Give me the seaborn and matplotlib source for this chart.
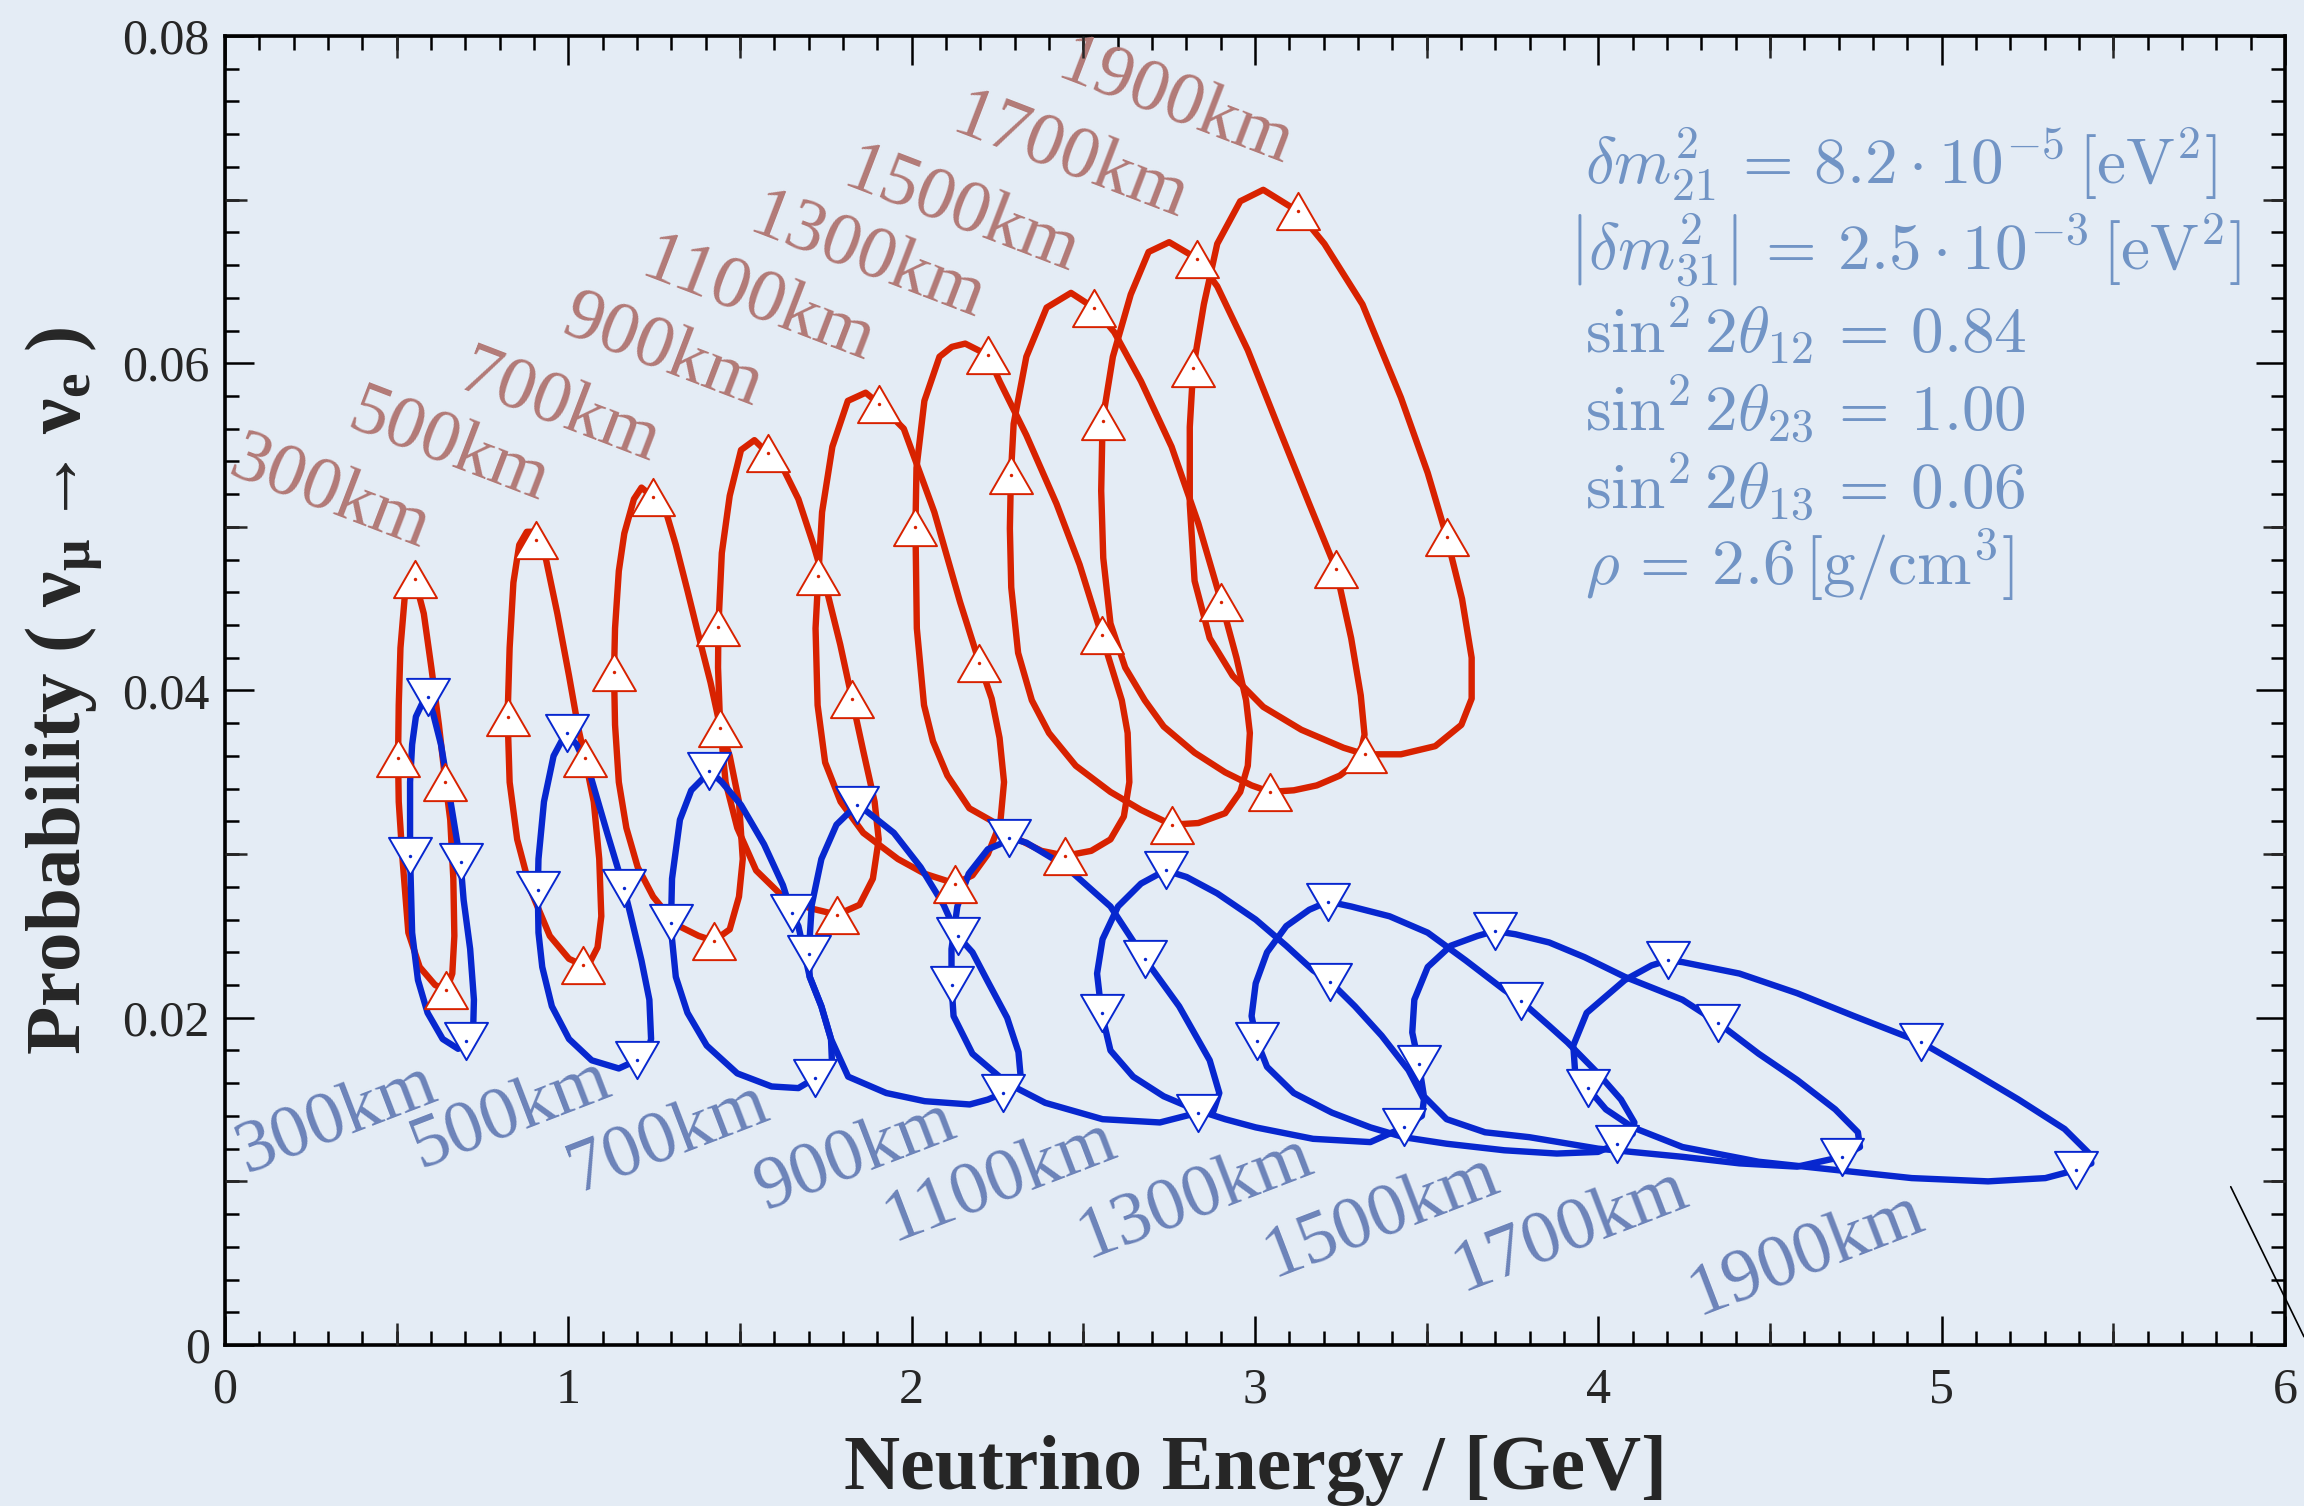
import matplotlib
matplotlib.use("Agg")
import matplotlib.pyplot as plt
import seaborn as sns
import pandas as pd
from matplotlib.lines import Line2D
from matplotlib.path import Path
from matplotlib.ticker import MultipleLocator, FixedLocator

# ---------------- data ----------------
baselines = [300, 500, 700, 900, 1100, 1300, 1500, 1700, 1900]

# neutrino loops (red)
nu_300_E = [0.553, 0.579, 0.601, 0.623, 0.642, 0.656, 0.665, 0.668, 0.662, 0.645, 0.612, 0.567, 0.534, 0.517, 0.506, 0.504, 0.506, 0.511, 0.523, 0.539]
nu_300_P = [0.0468, 0.0447, 0.0414, 0.0379, 0.0344, 0.0321, 0.0285, 0.0250, 0.0227, 0.0217, 0.0220, 0.0231, 0.0252, 0.0297, 0.0332, 0.0359, 0.0391, 0.0426, 0.0456, 0.0467]
nu_300_marks = [0, 4, 9, 15]

nu_500_E = [0.905, 0.935, 0.968, 1.002, 1.029, 1.048, 1.074, 1.090, 1.096, 1.085, 1.063, 1.044, 1.002, 0.946, 0.890, 0.851, 0.829, 0.823, 0.829, 0.840, 0.857, 0.879, 0.896]
nu_500_P = [0.0492, 0.0480, 0.0447, 0.0409, 0.0377, 0.0359, 0.0332, 0.0297, 0.0262, 0.0243, 0.0234, 0.0232, 0.0236, 0.0250, 0.0278, 0.0309, 0.0344, 0.0384, 0.0426, 0.0466, 0.0489, 0.0497, 0.0497]
nu_500_marks = [0, 5, 11, 17]

nu_700_E = [1.248, 1.286, 1.313, 1.347, 1.380, 1.414, 1.443, 1.470, 1.497, 1.508, 1.497, 1.470, 1.424, 1.380, 1.313, 1.247, 1.202, 1.169, 1.147, 1.136, 1.133, 1.136, 1.147, 1.163, 1.191, 1.213]
nu_700_P = [0.0518, 0.0508, 0.0489, 0.0461, 0.0433, 0.0405, 0.0377, 0.0360, 0.0332, 0.0297, 0.0274, 0.0254, 0.0247, 0.0250, 0.0257, 0.0274, 0.0292, 0.0316, 0.0344, 0.0379, 0.0411, 0.0438, 0.0473, 0.0496, 0.0517, 0.0524]
nu_700_marks = [0, 6, 12, 20]

nu_900_E = [1.581, 1.625, 1.670, 1.714, 1.753, 1.792, 1.826, 1.859, 1.892, 1.904, 1.887, 1.848, 1.783, 1.703, 1.625, 1.547, 1.492, 1.458, 1.442, 1.436, 1.437, 1.447, 1.470, 1.503, 1.542]
nu_900_P = [0.0545, 0.0536, 0.0517, 0.0489, 0.0461, 0.0428, 0.0395, 0.0363, 0.0332, 0.0309, 0.0285, 0.0269, 0.0263, 0.0267, 0.0274, 0.0290, 0.0316, 0.0344, 0.0379, 0.0414, 0.0439, 0.0484, 0.0519, 0.0547, 0.0553]
nu_900_marks = [0, 6, 12, 20]

nu_1100_E = [1.906, 1.977, 2.066, 2.141, 2.197, 2.233, 2.256, 2.269, 2.258, 2.222, 2.177, 2.127, 2.038, 1.960, 1.859, 1.793, 1.748, 1.726, 1.720, 1.728, 1.739, 1.769, 1.814, 1.866]
nu_1100_P = [0.0575, 0.0560, 0.0509, 0.0454, 0.0417, 0.0395, 0.0371, 0.0344, 0.0319, 0.0300, 0.0287, 0.0282, 0.0288, 0.0297, 0.0313, 0.0332, 0.0356, 0.0391, 0.0438, 0.0470, 0.0509, 0.0549, 0.0577, 0.0582]
nu_1100_marks = [0, 4, 11, 19]

nu_1300_E = [2.222, 2.256, 2.334, 2.422, 2.489, 2.553, 2.612, 2.629, 2.634, 2.618, 2.579, 2.523, 2.448, 2.378, 2.311, 2.244, 2.168, 2.104, 2.062, 2.036, 2.015, 2.011, 2.014, 2.037, 2.081, 2.117, 2.156]
nu_1300_P = [0.0605, 0.0589, 0.0556, 0.0514, 0.0477, 0.0434, 0.0394, 0.0374, 0.0344, 0.0323, 0.0309, 0.0302, 0.0299, 0.0302, 0.0309, 0.0319, 0.0328, 0.0348, 0.0369, 0.0391, 0.0438, 0.0500, 0.0536, 0.0577, 0.0604, 0.0610, 0.0612]
nu_1300_marks = [0, 5, 12, 21]

nu_1500_E = [2.530, 2.590, 2.668, 2.757, 2.835, 2.902, 2.946, 2.974, 2.985, 2.979, 2.957, 2.913, 2.835, 2.757, 2.668, 2.579, 2.478, 2.400, 2.350, 2.310, 2.290, 2.286, 2.289, 2.297, 2.334, 2.393, 2.464]
nu_1500_P = [0.0634, 0.0619, 0.0589, 0.0549, 0.0502, 0.0454, 0.0420, 0.0394, 0.0374, 0.0354, 0.0338, 0.0325, 0.0319, 0.0318, 0.0327, 0.0338, 0.0354, 0.0374, 0.0394, 0.0423, 0.0463, 0.0499, 0.0532, 0.0563, 0.0604, 0.0634, 0.0643]
nu_1500_marks = [0, 5, 13, 22]

nu_1700_E = [2.831, 2.890, 2.979, 3.068, 3.158, 3.236, 3.280, 3.308, 3.319, 3.302, 3.247, 3.180, 3.113, 3.044, 2.990, 2.913, 2.824, 2.734, 2.679, 2.622, 2.579, 2.558, 2.552, 2.556, 2.586, 2.638, 2.690, 2.750]
nu_1700_P = [0.0664, 0.0647, 0.0608, 0.0561, 0.0514, 0.0474, 0.0432, 0.0397, 0.0373, 0.0357, 0.0348, 0.0342, 0.0339, 0.0338, 0.0342, 0.0350, 0.0362, 0.0378, 0.0394, 0.0414, 0.0441, 0.0481, 0.0522, 0.0565, 0.0604, 0.0642, 0.0668, 0.0674]
nu_1700_marks = [0, 5, 13, 23]

nu_1900_E = [3.124, 3.202, 3.313, 3.425, 3.503, 3.558, 3.603, 3.631, 3.631, 3.601, 3.525, 3.425, 3.320, 3.258, 3.135, 3.024, 2.935, 2.868, 2.824, 2.810, 2.810, 2.820, 2.851, 2.890, 2.957, 3.024]
nu_1900_P = [0.0693, 0.0673, 0.0636, 0.0579, 0.0533, 0.0494, 0.0456, 0.0420, 0.0395, 0.0379, 0.0366, 0.0361, 0.0361, 0.0365, 0.0376, 0.0390, 0.0409, 0.0432, 0.0467, 0.0514, 0.0561, 0.0597, 0.0636, 0.0673, 0.0699, 0.0706]
nu_1900_marks = [0, 5, 12, 21]

# anti-neutrino loops (blue)
nubar_300_E = [0.590, 0.606, 0.629, 0.657, 0.686, 0.695, 0.714, 0.725, 0.723, 0.703, 0.679, 0.634, 0.590, 0.562, 0.545, 0.539, 0.539, 0.545, 0.556, 0.574]
nubar_300_P = [0.0396, 0.0386, 0.0367, 0.0332, 0.0295, 0.0272, 0.0242, 0.0211, 0.0195, 0.0186, 0.0181, 0.0187, 0.0203, 0.0223, 0.0252, 0.0299, 0.0344, 0.0367, 0.0384, 0.0392]
nubar_300_marks = [0, 4, 9, 15]

nubar_500_E = [0.995, 1.024, 1.063, 1.113, 1.162, 1.180, 1.213, 1.236, 1.241, 1.228, 1.199, 1.147, 1.068, 1.002, 0.952, 0.924, 0.913, 0.911, 0.913, 0.929, 0.957, 0.985]
nubar_500_P = [0.0374, 0.0367, 0.0349, 0.0313, 0.0279, 0.0264, 0.0235, 0.0211, 0.0187, 0.0177, 0.0174, 0.0169, 0.0174, 0.0187, 0.0207, 0.0231, 0.0252, 0.0278, 0.0297, 0.0332, 0.0360, 0.0371]
nubar_500_marks = [0, 4, 10, 17]

nubar_700_E = [1.411, 1.447, 1.503, 1.570, 1.625, 1.651, 1.670, 1.703, 1.737, 1.765, 1.768, 1.718, 1.670, 1.592, 1.492, 1.403, 1.347, 1.313, 1.302, 1.299, 1.302, 1.325, 1.358, 1.391]
nubar_700_P = [0.0351, 0.0344, 0.0330, 0.0306, 0.0281, 0.0264, 0.0256, 0.0225, 0.0207, 0.0187, 0.0172, 0.0163, 0.0157, 0.0158, 0.0166, 0.0183, 0.0203, 0.0225, 0.0248, 0.0258, 0.0285, 0.0321, 0.0339, 0.0346]
nubar_700_marks = [0, 5, 11, 19]

nubar_900_E = [1.841, 1.870, 1.948, 2.026, 2.093, 2.134, 2.177, 2.222, 2.278, 2.311, 2.317, 2.300, 2.267, 2.222, 2.169, 2.038, 1.926, 1.815, 1.765, 1.737, 1.703, 1.700, 1.709, 1.737, 1.781, 1.820]
nubar_900_P = [0.0330, 0.0326, 0.0313, 0.0292, 0.0269, 0.0250, 0.0240, 0.0222, 0.0200, 0.0179, 0.0165, 0.0158, 0.0154, 0.0150, 0.0147, 0.0149, 0.0154, 0.0164, 0.0187, 0.0207, 0.0225, 0.0239, 0.0269, 0.0297, 0.0318, 0.0326]
nubar_900_marks = [0, 5, 12, 21]

nubar_1100_E = [2.284, 2.334, 2.445, 2.579, 2.679, 2.779, 2.868, 2.896, 2.879, 2.835, 2.723, 2.556, 2.389, 2.278, 2.177, 2.122, 2.116, 2.116, 2.133, 2.166, 2.222, 2.256]
nubar_1100_P = [0.0310, 0.0307, 0.0293, 0.0268, 0.0236, 0.0207, 0.0174, 0.0154, 0.0143, 0.0142, 0.0136, 0.0138, 0.0148, 0.0160, 0.0178, 0.0201, 0.0220, 0.0242, 0.0268, 0.0288, 0.0303, 0.0306]
nubar_1100_marks = [0, 4, 9, 16]

nubar_1300_E = [2.740, 2.801, 2.890, 3.002, 3.091, 3.169, 3.219, 3.291, 3.369, 3.447, 3.492, 3.486, 3.433, 3.336, 3.169, 3.002, 2.913, 2.824, 2.734, 2.645, 2.579, 2.553, 2.540, 2.556, 2.601, 2.668, 2.712]
nubar_1300_P = [0.0290, 0.0286, 0.0276, 0.0260, 0.0244, 0.0229, 0.0222, 0.0207, 0.0189, 0.0168, 0.0150, 0.0140, 0.0133, 0.0124, 0.0126, 0.0133, 0.0138, 0.0144, 0.0152, 0.0164, 0.0180, 0.0203, 0.0227, 0.0248, 0.0268, 0.0282, 0.0287]
nubar_1300_marks = [0, 6, 12, 21]

nubar_1500_E = [3.213, 3.280, 3.392, 3.503, 3.614, 3.726, 3.776, 3.857, 3.910, 3.999, 4.066, 4.105, 4.100, 4.055, 3.999, 3.879, 3.726, 3.558, 3.433, 3.336, 3.224, 3.113, 3.035, 3.005, 2.990, 3.002, 3.035, 3.091, 3.158, 3.191]
nubar_1500_P = [0.0271, 0.0268, 0.0262, 0.0252, 0.0235, 0.0217, 0.0210, 0.0195, 0.0185, 0.0166, 0.0150, 0.0136, 0.0129, 0.0123, 0.0118, 0.0117, 0.0119, 0.0123, 0.0127, 0.0133, 0.0142, 0.0154, 0.0170, 0.0186, 0.0201, 0.0221, 0.0240, 0.0256, 0.0266, 0.0269]
nubar_1500_marks = [0, 6, 13, 23]

nubar_1700_E = [3.698, 3.759, 3.857, 3.960, 4.077, 4.245, 4.348, 4.467, 4.579, 4.690, 4.756, 4.762, 4.710, 4.579, 4.411, 4.245, 3.999, 3.799, 3.670, 3.558, 3.492, 3.477, 3.458, 3.464, 3.503, 3.570, 3.648]
nubar_1700_P = [0.0253, 0.0251, 0.0246, 0.0237, 0.0225, 0.0211, 0.0197, 0.0178, 0.0162, 0.0144, 0.0130, 0.0121, 0.0115, 0.0109, 0.0111, 0.0115, 0.0120, 0.0127, 0.0130, 0.0138, 0.0152, 0.0172, 0.0191, 0.0211, 0.0231, 0.0244, 0.0250]
nubar_1700_marks = [0, 6, 12, 21]

nubar_1900_E = [4.202, 4.245, 4.411, 4.579, 4.745, 4.940, 5.080, 5.224, 5.358, 5.430, 5.436, 5.392, 5.302, 5.135, 4.913, 4.690, 4.467, 4.245, 4.100, 4.022, 3.969, 3.932, 3.927, 3.966, 4.077, 4.155]
nubar_1900_P = [0.0235, 0.0234, 0.0227, 0.0215, 0.0201, 0.0185, 0.0168, 0.0150, 0.0132, 0.0117, 0.0111, 0.0107, 0.0102, 0.0100, 0.0102, 0.0107, 0.0112, 0.0121, 0.0133, 0.0144, 0.0157, 0.0168, 0.0183, 0.0203, 0.0223, 0.0232]
nubar_1900_marks = [0, 5, 11, 20]

label_texts = [f"{b}km" for b in baselines]
x_ticks = [0, 1, 2, 3, 4, 5, 6]
y_ticks = [0, 0.02, 0.04, 0.06, 0.08]
y_tick_labels = ["0", "0.02", "0.04", "0.06", "0.08"]

param_lines = [
    r"$\delta m^2_{21} \,=\, 8.2\cdot 10^{-5}\,[\mathrm{eV}^2]$",
    r"$\left|\delta m^2_{31}\right| \,=\, 2.5\cdot 10^{-3}\,[\mathrm{eV}^2]$",
    r"$\sin^2 2\theta_{12} \,=\, 0.84$",
    r"$\sin^2 2\theta_{23} \,=\, 1.00$",
    r"$\sin^2 2\theta_{13} \,=\, 0.06$",
    r"$\rho \,=\, 2.6\,[\mathrm{g/cm}^3]$",
]

# label anchor positions (data coords)
nu_label_E = [0.304, 0.650, 0.971, 1.274, 1.552, 1.869, 2.143, 2.459, 2.767]
nu_label_P = [0.0519, 0.0548, 0.0572, 0.0606, 0.0637, 0.0664, 0.0692, 0.0725, 0.0758]
nubar_label_E = [0.325, 0.834, 1.292, 1.839, 2.258, 2.827, 3.370, 3.918, 4.606]
nubar_label_P = [0.0138, 0.0141, 0.0126, 0.0115, 0.0100, 0.0090, 0.0078, 0.0070, 0.0055]

# ---------------- assemble tables ----------------
nu_loops = [(nu_300_E, nu_300_P, nu_300_marks), (nu_500_E, nu_500_P, nu_500_marks),
            (nu_700_E, nu_700_P, nu_700_marks), (nu_900_E, nu_900_P, nu_900_marks),
            (nu_1100_E, nu_1100_P, nu_1100_marks), (nu_1300_E, nu_1300_P, nu_1300_marks),
            (nu_1500_E, nu_1500_P, nu_1500_marks), (nu_1700_E, nu_1700_P, nu_1700_marks),
            (nu_1900_E, nu_1900_P, nu_1900_marks)]
nubar_loops = [(nubar_300_E, nubar_300_P, nubar_300_marks), (nubar_500_E, nubar_500_P, nubar_500_marks),
               (nubar_700_E, nubar_700_P, nubar_700_marks), (nubar_900_E, nubar_900_P, nubar_900_marks),
               (nubar_1100_E, nubar_1100_P, nubar_1100_marks), (nubar_1300_E, nubar_1300_P, nubar_1300_marks),
               (nubar_1500_E, nubar_1500_P, nubar_1500_marks), (nubar_1700_E, nubar_1700_P, nubar_1700_marks),
               (nubar_1900_E, nubar_1900_P, nubar_1900_marks)]

line_rows, mark_rows = [], []
for ch, loops in (("nu", nu_loops), ("nubar", nubar_loops)):
    for b, (E, P, mk) in zip(baselines, loops):
        EE = list(E) + [E[0]]
        PP = list(P) + [P[0]]
        for i, (e, p) in enumerate(zip(EE, PP)):
            line_rows.append(dict(channel=ch, baseline=f"{ch}{b}", order=i, E=e, P=p))
        for i in mk:
            mark_rows.append(dict(channel=ch, baseline=b, E=E[i], P=P[i]))
lines_df = pd.DataFrame(line_rows)
marks_df = pd.DataFrame(mark_rows)

# ---------------- style ----------------
RED = "#d82200"
BLUE = "#0727cf"
RED_TXT = "#b27a77"
BLUE_TXT = "#6c83b9"
PARAM = "#7194c5"
BG = "#e4ecf5"

sns.set_style("ticks")
plt.rcParams["font.family"] = ["Liberation Serif", "DejaVu Serif"]
plt.rcParams["mathtext.fontset"] = "custom"
plt.rcParams["mathtext.rm"] = "Liberation Serif:bold"
plt.rcParams["mathtext.bf"] = "Liberation Serif:bold"
plt.rcParams["mathtext.it"] = "Liberation Serif:bold:italic"

fig = plt.figure(figsize=(23.04, 15.06), dpi=100, facecolor=BG)
ax = fig.add_axes([0.09766, 0.10691, 0.89410, 0.86919])
ax.set_facecolor(BG)

sns.lineplot(data=lines_df, x="E", y="P", hue="channel", units="baseline",
             estimator=None, sort=False, palette={"nu": RED, "nubar": BLUE},
             linewidth=4.6, legend=False, ax=ax, zorder=3)
for ln in ax.get_lines():
    ln.set_solid_joinstyle("round")
    ln.set_solid_capstyle("round")

tri_up = Path([(0, 0.866), (-1, -0.866), (1, -0.866), (0, 0.866)],
              [Path.MOVETO, Path.LINETO, Path.LINETO, Path.CLOSEPOLY])
tri_dn = Path([(0, -0.866), (-1, 0.866), (1, 0.866), (0, -0.866)],
              [Path.MOVETO, Path.LINETO, Path.LINETO, Path.CLOSEPOLY])

for ch, mk, col in (("nu", tri_up, RED), ("nubar", tri_dn, BLUE)):
    sub = marks_df[marks_df.channel == ch]
    sns.scatterplot(data=sub, x="E", y="P", marker=mk, s=960, color="white",
                    edgecolor=col, linewidth=1.4, ax=ax, zorder=5, legend=False)
    sns.scatterplot(data=sub, x="E", y="P", marker="o", s=6, color=col,
                    linewidth=0, ax=ax, zorder=6, legend=False)

# baseline labels
for t, e, p in zip(label_texts, nu_label_E, nu_label_P):
    ax.text(e, p, t, rotation=-21, rotation_mode="anchor", ha="center", va="center",
            color=RED_TXT, fontsize=54, zorder=4)
for t, e, p in zip(label_texts, nubar_label_E, nubar_label_P):
    ax.text(e, p, t, rotation=21, rotation_mode="anchor", ha="center", va="center",
            color=BLUE_TXT, fontsize=54, zorder=4)

# axes, ticks
ax.set_xlim(0, 6)
ax.set_ylim(0, 0.08)
ax.set_xticks(x_ticks)
ax.set_xticklabels([str(v) for v in x_ticks])
ax.set_yticks(y_ticks)
ax.set_yticklabels(y_tick_labels)
ax.xaxis.set_minor_locator(MultipleLocator(0.1))
ax.yaxis.set_minor_locator(MultipleLocator(0.002))
ax.tick_params(which="both", direction="in", top=True, right=True, width=1.8, color="black")
ax.tick_params(which="major", length=21, labelsize=36)
ax.tick_params(which="minor", length=10)
ax.tick_params(axis="x", which="major", pad=16)
ax.tick_params(axis="y", which="major", pad=11)
for s in ax.spines.values():
    s.set_linewidth(2.6)
    s.set_color("black")

# medium ticks (half-major) on an overlay axes
axm = fig.add_axes(ax.get_position(), frameon=False)
axm.set_xlim(0, 6)
axm.set_ylim(0, 0.08)
axm.xaxis.set_major_locator(FixedLocator([0.5, 1.5, 2.5, 3.5, 4.5, 5.5]))
axm.yaxis.set_major_locator(FixedLocator([0.01, 0.03, 0.05, 0.07]))
axm.tick_params(which="major", direction="in", length=16, width=1.8, top=True, bottom=True,
                left=True, right=True, labelbottom=False, labelleft=False)
axm.patch.set_visible(False)

# axis labels
ax.set_xlabel("Neutrino Energy / [GeV]", fontsize=56, fontweight="bold")
ax.xaxis.set_label_coords(0.5, -0.1100)
ax.xaxis.label.set_verticalalignment("baseline")
ax.set_ylabel(r"Probability ( $\mathbf{\nu_{\mu} \rightarrow \nu_{e}}$ )", fontsize=57,
              fontweight="bold", math_fontfamily="custom")
ax.yaxis.set_label_coords(-0.0704, 0.5)
ax.yaxis.label.set_verticalalignment("baseline")

# parameter box
param_x = [0.6878, 0.6810, 0.6878, 0.6878, 0.6878, 0.6878]
param_y = [0.8778, 0.8207, 0.7658, 0.7139, 0.6621, 0.6117]
for t, x, y in zip(param_lines, param_x, param_y):
    fig.text(x, y, t, fontsize=47, color=PARAM, va="baseline", ha="left", math_fontfamily="cm")

# stray diagonal stroke at lower right of the original
fig.add_artist(Line2D([0.9682, 1.0], [0.2120, 0.1124], transform=fig.transFigure,
                      color="black", lw=1.2))

fig.savefig("out.png", dpi=100, facecolor=BG)
